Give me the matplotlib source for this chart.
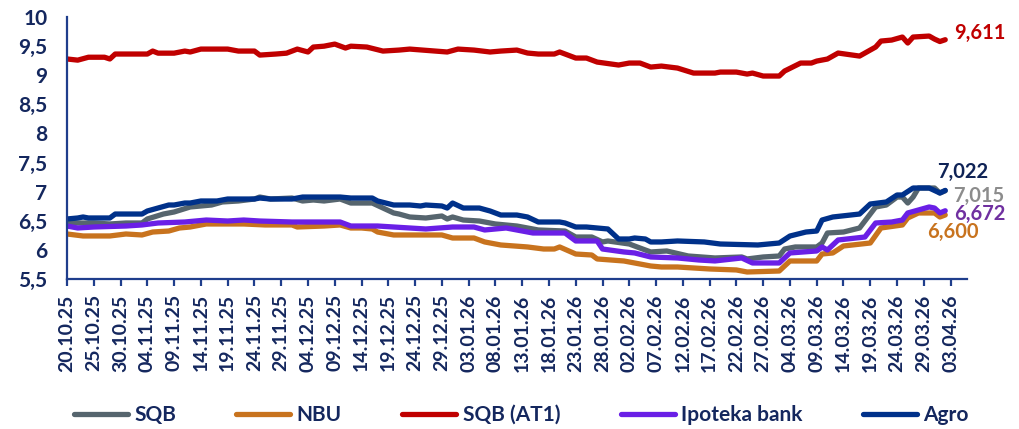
import matplotlib
matplotlib.use("Agg")
import matplotlib.pyplot as plt
import matplotlib.dates as mdates
import matplotlib.ticker as mticker
import pandas as pd

plt.rcParams['font.family'] = ['Lato', 'DejaVu Sans']

# ---------------- data ----------------
series_names = ["SQB", "NBU", "SQB (AT1)", "Ipoteka bank", "Agro"]

sqb_dates = ["2025-10-20", "2025-10-22", "2025-10-25", "2025-10-28", "2025-10-31", "2025-11-03",
             "2025-11-04", "2025-11-07", "2025-11-09", "2025-11-12", "2025-11-16", "2025-11-18",
             "2025-11-21", "2025-11-24", "2025-11-25", "2025-11-27", "2025-12-01", "2025-12-03",
             "2025-12-05", "2025-12-07", "2025-12-10", "2025-12-12", "2025-12-16", "2025-12-20",
             "2025-12-21", "2025-12-23", "2025-12-26", "2025-12-29", "2025-12-30", "2025-12-31",
             "2026-01-02", "2026-01-05", "2026-01-08", "2026-01-12", "2026-01-16", "2026-01-21",
             "2026-01-23", "2026-01-26", "2026-01-28", "2026-01-29", "2026-02-02", "2026-02-04",
             "2026-02-06", "2026-02-09", "2026-02-13", "2026-02-18", "2026-02-23", "2026-02-24",
             "2026-02-27", "2026-03-02", "2026-03-03", "2026-03-05", "2026-03-09", "2026-03-10",
             "2026-03-11", "2026-03-14", "2026-03-17", "2026-03-20", "2026-03-22", "2026-03-24",
             "2026-03-25", "2026-03-26", "2026-03-27", "2026-03-28", "2026-03-31", "2026-04-01",
             "2026-04-02"]
sqb_values = [6.479, 6.462, 6.462, 6.445, 6.462, 6.462,
              6.531, 6.616, 6.651, 6.737, 6.771, 6.823,
              6.840, 6.874, 6.908, 6.874, 6.891, 6.840,
              6.857, 6.840, 6.874, 6.805, 6.805, 6.634,
              6.616, 6.565, 6.548, 6.582, 6.531, 6.565,
              6.513, 6.496, 6.445, 6.410, 6.342, 6.324,
              6.221, 6.221, 6.136, 6.153, 6.101, 6.032,
              5.964, 5.981, 5.895, 5.861, 5.878, 5.844,
              5.878, 5.895, 6.015, 6.050, 6.050, 6.118,
              6.290, 6.307, 6.376, 6.737, 6.771, 6.908,
              6.908, 6.805, 6.908, 7.063, 7.063, 6.977,
              7.015]

nbu_dates = ["2025-10-20", "2025-10-23", "2025-10-28", "2025-10-31", "2025-11-03", "2025-11-05",
             "2025-11-08", "2025-11-10", "2025-11-12", "2025-11-15", "2025-11-22", "2025-11-26",
             "2025-12-01", "2025-12-02", "2025-12-07", "2025-12-10", "2025-12-12", "2025-12-14",
             "2025-12-16", "2025-12-17", "2025-12-20", "2025-12-29", "2025-12-31", "2026-01-04",
             "2026-01-06", "2026-01-09", "2026-01-14", "2026-01-17", "2026-01-19", "2026-01-20",
             "2026-01-23", "2026-01-26", "2026-01-27", "2026-02-01", "2026-02-06", "2026-02-08",
             "2026-02-11", "2026-02-17", "2026-02-22", "2026-02-24", "2026-03-02", "2026-03-04",
             "2026-03-09", "2026-03-10", "2026-03-12", "2026-03-14", "2026-03-19", "2026-03-21",
             "2026-03-25", "2026-03-26", "2026-03-28", "2026-03-31", "2026-04-01", "2026-04-02"]
nbu_values = [6.273, 6.239, 6.239, 6.273, 6.256, 6.307,
              6.324, 6.376, 6.393, 6.445, 6.445, 6.428,
              6.428, 6.393, 6.410, 6.428, 6.376, 6.376,
              6.359, 6.307, 6.256, 6.256, 6.204, 6.204,
              6.136, 6.084, 6.050, 6.015, 6.015, 6.050,
              5.929, 5.912, 5.844, 5.809, 5.723, 5.706,
              5.706, 5.672, 5.655, 5.620, 5.637, 5.809,
              5.809, 5.929, 5.947, 6.067, 6.118, 6.376,
              6.428, 6.548, 6.634, 6.634, 6.565, 6.600]

at1_dates = ["2025-10-20", "2025-10-22", "2025-10-24", "2025-10-27", "2025-10-28", "2025-10-29",
             "2025-11-04", "2025-11-05", "2025-11-06", "2025-11-09", "2025-11-11", "2025-11-12",
             "2025-11-14", "2025-11-19", "2025-11-21", "2025-11-24", "2025-11-25", "2025-11-28",
             "2025-11-30", "2025-12-02", "2025-12-04", "2025-12-05", "2025-12-07", "2025-12-09",
             "2025-12-11", "2025-12-12", "2025-12-15", "2025-12-18", "2025-12-21", "2025-12-23",
             "2025-12-30", "2026-01-01", "2026-01-04", "2026-01-07", "2026-01-09", "2026-01-12",
             "2026-01-14", "2026-01-16", "2026-01-19", "2026-01-20", "2026-01-23", "2026-01-25",
             "2026-01-27", "2026-01-31", "2026-02-02", "2026-02-04", "2026-02-06", "2026-02-08",
             "2026-02-11", "2026-02-14", "2026-02-18", "2026-02-19", "2026-02-22", "2026-02-24",
             "2026-02-25", "2026-02-27", "2026-03-02", "2026-03-03", "2026-03-06", "2026-03-08",
             "2026-03-09", "2026-03-11", "2026-03-13", "2026-03-17", "2026-03-20", "2026-03-21",
             "2026-03-23", "2026-03-25", "2026-03-26", "2026-03-27", "2026-03-30", "2026-03-31",
             "2026-04-01", "2026-04-02"]
at1_values = [9.280, 9.260, 9.310, 9.310, 9.280, 9.365,
              9.365, 9.416, 9.380, 9.380, 9.416, 9.400,
              9.450, 9.450, 9.416, 9.416, 9.347, 9.365,
              9.380, 9.450, 9.400, 9.485, 9.500, 9.536,
              9.468, 9.500, 9.485, 9.416, 9.433, 9.450,
              9.400, 9.450, 9.433, 9.400, 9.416, 9.433,
              9.382, 9.365, 9.365, 9.400, 9.296, 9.296,
              9.227, 9.176, 9.210, 9.210, 9.141, 9.158,
              9.124, 9.038, 9.038, 9.055, 9.055, 9.021,
              9.038, 8.987, 8.987, 9.073, 9.210, 9.210,
              9.244, 9.279, 9.382, 9.330, 9.485, 9.588,
              9.605, 9.657, 9.554, 9.657, 9.674, 9.622,
              9.580, 9.611]

ipo_dates = ["2025-10-20", "2025-10-22", "2025-10-25", "2025-10-31", "2025-11-03", "2025-11-06",
             "2025-11-11", "2025-11-15", "2025-11-19", "2025-11-22", "2025-11-25", "2025-12-01",
             "2025-12-10", "2025-12-12", "2025-12-17", "2025-12-20", "2025-12-26", "2025-12-31",
             "2026-01-04", "2026-01-06", "2026-01-10", "2026-01-15", "2026-01-21", "2026-01-23",
             "2026-01-27", "2026-01-28", "2026-02-01", "2026-02-03", "2026-02-06", "2026-02-11",
             "2026-02-15", "2026-02-18", "2026-02-23", "2026-02-25", "2026-03-02", "2026-03-04",
             "2026-03-09", "2026-03-10", "2026-03-11", "2026-03-13", "2026-03-18", "2026-03-20",
             "2026-03-23", "2026-03-25", "2026-03-26", "2026-03-30", "2026-03-31", "2026-04-01",
             "2026-04-02"]
ipo_values = [6.410, 6.376, 6.393, 6.410, 6.428, 6.462,
              6.479, 6.513, 6.496, 6.513, 6.496, 6.479,
              6.479, 6.410, 6.410, 6.393, 6.359, 6.393,
              6.393, 6.342, 6.376, 6.290, 6.290, 6.153,
              6.153, 6.015, 5.964, 5.947, 5.878, 5.861,
              5.826, 5.810, 5.861, 5.775, 5.775, 5.947,
              5.981, 6.050, 5.998, 6.170, 6.221, 6.462,
              6.479, 6.513, 6.634, 6.737, 6.719, 6.634,
              6.672]

agro_dates = ["2025-10-20", "2025-10-22", "2025-10-23", "2025-10-24", "2025-10-28", "2025-10-29",
              "2025-11-03", "2025-11-04", "2025-11-08", "2025-11-09", "2025-11-11", "2025-11-12",
              "2025-11-14", "2025-11-17", "2025-11-19", "2025-11-24", "2025-11-25", "2025-11-27",
              "2025-12-01", "2025-12-03", "2025-12-10", "2025-12-12", "2025-12-16", "2025-12-17",
              "2025-12-20", "2025-12-23", "2025-12-25", "2025-12-26", "2025-12-29", "2025-12-30",
              "2025-12-31", "2026-01-02", "2026-01-05", "2026-01-07", "2026-01-09", "2026-01-12",
              "2026-01-14", "2026-01-16", "2026-01-20", "2026-01-21", "2026-01-23", "2026-01-25",
              "2026-01-27", "2026-01-29", "2026-01-31", "2026-02-02", "2026-02-03", "2026-02-05",
              "2026-02-06", "2026-02-08", "2026-02-11", "2026-02-16", "2026-02-19", "2026-02-26",
              "2026-03-02", "2026-03-04", "2026-03-07", "2026-03-09", "2026-03-10", "2026-03-12",
              "2026-03-17", "2026-03-19", "2026-03-22", "2026-03-24", "2026-03-25", "2026-03-27",
              "2026-03-30", "2026-04-01", "2026-04-02"]
agro_values = [6.531, 6.548, 6.565, 6.548, 6.548, 6.616,
               6.616, 6.668, 6.771, 6.771, 6.805, 6.805,
               6.840, 6.840, 6.874, 6.874, 6.891, 6.874,
               6.874, 6.908, 6.908, 6.891, 6.891, 6.840,
               6.771, 6.771, 6.754, 6.771, 6.754, 6.719,
               6.805, 6.719, 6.719, 6.668, 6.599, 6.599,
               6.565, 6.479, 6.479, 6.462, 6.393, 6.393,
               6.376, 6.359, 6.187, 6.187, 6.204, 6.187,
               6.136, 6.136, 6.153, 6.136, 6.101, 6.084,
               6.118, 6.238, 6.307, 6.324, 6.513, 6.565,
               6.616, 6.788, 6.823, 6.943, 6.943, 7.063,
               7.063, 6.977, 7.022]

end_labels = ["7,015", "6,600", "9,611", "6,672", "7,022"]
x_start = "2025-10-20"
x_end = "2026-04-06"
tick_step_days = 5
y_min, y_max, y_step = 5.5, 10.0, 0.5

# ---------------- styling ----------------
line_colors = ["#56656E", "#C8731E", "#C00000", "#6A1FE6", "#00318A"]
label_colors = ["#8C8C8C", "#C8731E", "#C00000", "#7030A0", "#0F2356"]
label_offsets = [(8, -5), (-18, -17), (9, 7), (9, -3), (-8, 18)]
navy_text = "#14275E"
axis_color = "#1F3E8C"

fig = plt.figure(figsize=(10.2, 4.29), dpi=100)
ax = fig.add_axes([0.0657, 0.3497, 0.882, 0.6105])

all_dates = [sqb_dates, nbu_dates, at1_dates, ipo_dates, agro_dates]
all_values = [sqb_values, nbu_values, at1_values, ipo_values, agro_values]

for name, d, v, c, lab, lc, off in zip(series_names, all_dates, all_values,
                                       line_colors, end_labels, label_colors, label_offsets):
    dt = pd.to_datetime(d)
    ax.plot(dt, v, color=c, lw=3.8, solid_joinstyle='round', solid_capstyle='round', label=name)
    ax.annotate(lab, xy=(dt[-1], v[-1]), xytext=off, textcoords='offset pixels',
                ha='left', va='center', fontsize=14.5, fontweight='bold', color=lc)

ax.set_xlim(pd.Timestamp(x_start), pd.Timestamp(x_end))
ax.set_ylim(y_min, y_max)

ticks = pd.date_range(x_start, x_end, freq=f"{tick_step_days}D")
ax.set_xticks(ticks)
ax.xaxis.set_major_formatter(mdates.DateFormatter("%d.%m.%y"))
ax.yaxis.set_major_locator(mticker.MultipleLocator(y_step))
ax.yaxis.set_major_formatter(mticker.FuncFormatter(
    lambda v, p: (f"{v:g}").replace(".", ",")))

for s in ["top", "right"]:
    ax.spines[s].set_visible(False)
for s in ["left", "bottom"]:
    ax.spines[s].set_color(axis_color)
    ax.spines[s].set_linewidth(1.6)

ax.tick_params(axis='y', length=0, pad=14, labelsize=15, labelcolor=navy_text)
ax.tick_params(axis='x', length=5, width=1.6, color=axis_color, pad=6,
               labelsize=14, labelcolor=navy_text, rotation=90)
for t in ax.get_xticklabels() + ax.get_yticklabels():
    t.set_fontweight('bold')

leg = fig.legend(loc='center', bbox_to_anchor=(0.511, 0.033), ncol=5, frameon=False,
                 fontsize=15, handlelength=2.6, columnspacing=2.9, handletextpad=0.3)
for t in leg.get_texts():
    t.set_color(navy_text)
    t.set_fontweight('bold')

fig.savefig("out.png", dpi=100)
